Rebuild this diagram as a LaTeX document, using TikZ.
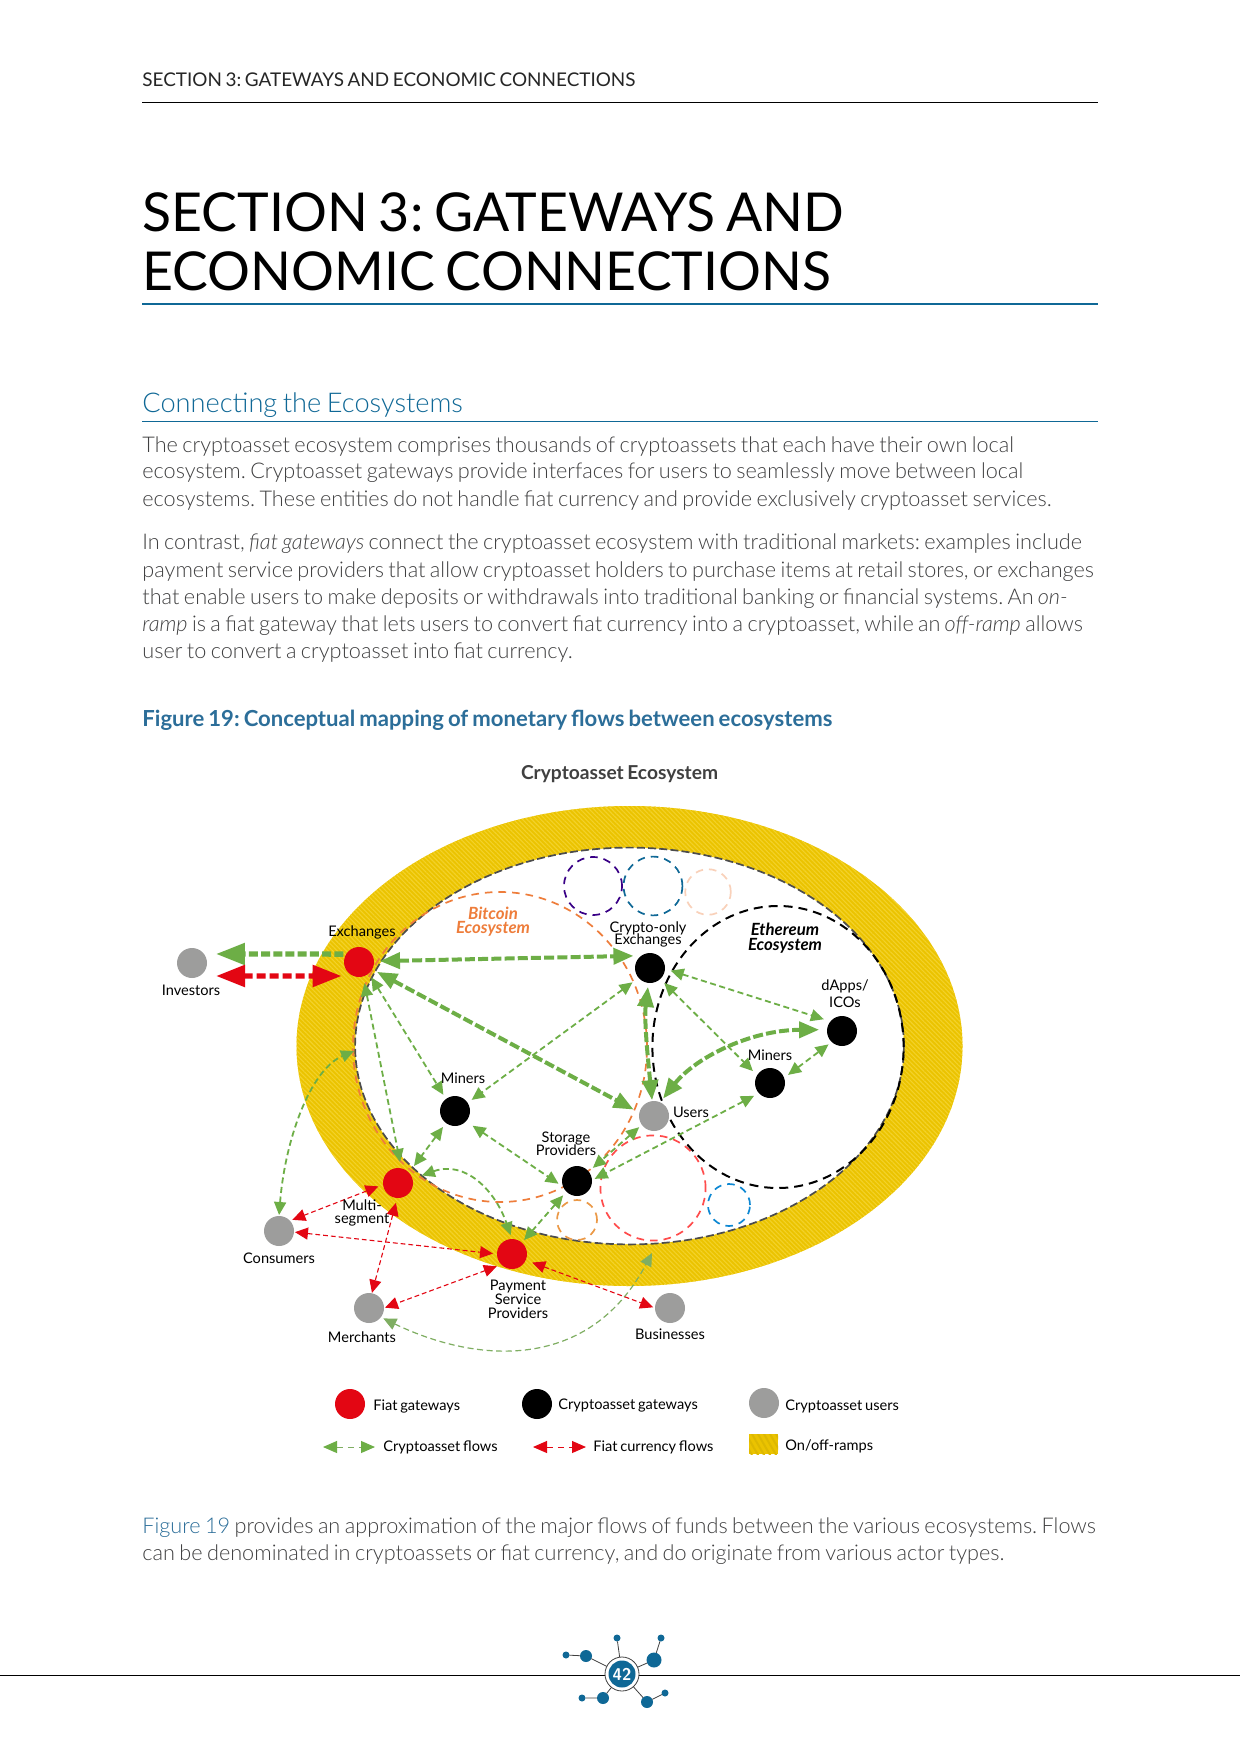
\documentclass[tikz,border=0pt]{standalone}
\usepackage{fontspec}
\setmainfont{Lato}[WordSpace=0.75]
\newfontfamily\latolight{Lato Light}[ItalicFont={Lato Light Italic},WordSpace=0.75]
\newfontfamily\latotitle{Lato}[WordSpace=0.8]
\usetikzlibrary{arrows.meta,patterns.meta}
\frenchspacing
\newcommand\tightls{\lineskiplimit -20pt\relax}
\definecolor{cgreen}{HTML}{6DAE46}
\definecolor{cgreenb}{HTML}{7FAE62}
\definecolor{cred}{HTML}{E30613}
\definecolor{cgrey}{HTML}{9D9D9C}
\definecolor{cyel}{HTML}{EBC300}
\definecolor{cyelb}{HTML}{F3D22A}
\definecolor{cyeld}{HTML}{DDB800}
\definecolor{corange}{HTML}{EE7D3B}
\definecolor{cblue}{HTML}{0F6896}
\definecolor{chead}{HTML}{2C6E99}
\definecolor{ctext}{HTML}{404041}
\tikzset{
 x=0.5pt,y=-0.5pt,
 gate/.style={circle,minimum size=15pt,inner sep=0,outer sep=0,draw=none},
 fiat/.style={gate,fill=cred},
 cryp/.style={gate,fill=black},
 user/.style={gate,fill=cgrey},
 lab/.style={font=\fontsize{7.3}{#1}\selectfont\tightls,align=center,inner sep=0,text=black},
 lab/.default=6.6,
 eco/.style={font=\fontsize{8.4}{#1}\selectfont\bfseries\itshape\tightls,align=center,inner sep=0},
 legt/.style={font=\fontsize{7.3}{9}\selectfont,anchor=west,inner sep=0,text=black},
 bodyline/.style={font=\fontsize{10.83}{13}\latolight\selectfont,anchor=base west,inner sep=0,text=ctext},
 titleline/.style={font=\fontsize{26.8}{30}\latotitle\selectfont,anchor=base west,inner sep=0},
 thin flow/.style={line width=0.9pt,dash pattern=on 3pt off 1.8pt,{Triangle[length=6.5pt,width=6pt]}-{Triangle[length=6.5pt,width=6pt]}},
 gflow/.style={thin flow,draw=cgreen},
 rflow/.style={thin flow,draw=cred,line width=0.55pt,dash pattern=on 2.4pt off 1.5pt},
 mflow/.style={line width=2pt,draw=cgreen,dash pattern=on 5pt off 1.6pt,{Triangle[length=10pt,width=8pt]}-{Triangle[length=10pt,width=8pt]}},
 ringdash/.style={dash pattern=on 4pt off 1.6pt,line width=0.85pt},
 satdash/.style={dash pattern=on 3.8pt off 3pt,line width=0.85pt,fill=none},
 hatch/.style={fill=cyel,postaction={pattern={Lines[angle=-45,distance=1.6pt,line width=0.55pt]},pattern color=cyelb}},
 hatchb/.style={fill=cyel,postaction={pattern={Lines[angle=-60,distance=2.6pt,line width=1pt]},pattern color=cyeld}},
 foot/.style={fill=cblue,circle,inner sep=0,outer sep=0},
 footline/.style={draw=black!75,line width=0.4pt},
}
\begin{document}
\begin{tikzpicture}
\useasboundingbox (0,0) rectangle (1240,1754);
\fill[white] (0,0) rectangle (1240,1754);

% page header
\node[font=\fontsize{9.45}{12}\selectfont,anchor=base west,inner sep=0,text=black!85] (hd) at (142,87) {SECTION 3: GATEWAYS AND ECONOMIC CONNECTIONS};
\draw[line width=0.4pt] (142,102) -- (1098,102);
\node[titleline] (t1) at (142,232) {SECTION 3: GATEWAYS AND};
\node[titleline] (t2) at (142,291) {ECONOMIC CONNECTIONS};
\draw[line width=1pt,draw=cblue] (142,304) -- (1098,304);
\node[font=\fontsize{13.6}{15}\latolight\selectfont,anchor=base west,inner sep=0,text=cblue] (sec) at (142,413) {Connecting the Ecosystems};
\draw[line width=0.45pt,draw=cblue] (142,421.5) -- (1098,421.5);

\node[bodyline] (b1) at (142,452) {The cryptoasset ecosystem comprises thousands of cryptoassets that each have their own local};
\node[bodyline] (b2) at (142,479) {ecosystem. Cryptoasset gateways provide interfaces for users to seamlessly move between local};
\node[bodyline] (b3) at (142,506) {ecosystems. These entities do not handle fiat currency and provide exclusively cryptoasset services.};
\node[bodyline] (b4) at (142,549.5) {In contrast, \textit{fiat gateways} connect the cryptoasset ecosystem with traditional markets: examples include};
\node[bodyline] (b5) at (142,577) {payment service providers that allow cryptoasset holders to purchase items at retail stores, or exchanges};
\node[bodyline] (b6) at (142,604) {that enable users to make deposits or withdrawals into traditional banking or financial systems. An \textit{on-}};
\node[bodyline] (b7) at (142,631) {\textit{ramp} is a fiat gateway that lets users to convert fiat currency into a cryptoasset, while an \textit{off-ramp} allows};
\node[bodyline] (b8) at (142,658) {user to convert a cryptoasset into fiat currency.};
\node[font=\fontsize{11.05}{13}\bfseries\selectfont,anchor=base west,inner sep=0,text=chead] (fig) at (142,726) {Figure 19: Conceptual mapping of monetary flows between ecosystems};
\node[font=\fontsize{9.6}{12}\bfseries\selectfont,inner sep=0,text=black!75] (ce) at (619.5,774.5) {Cryptoasset Ecosystem};

% ring
\coordinate (rc) at (629.5,1046);
\path[hatch,even odd rule] (rc) ellipse [x radius=166.5pt,y radius=120pt] (rc) ellipse [x radius=137.2pt,y radius=99.2pt];
\draw[ringdash,draw=black!70] (rc) ellipse [x radius=137.2pt,y radius=99.2pt];

% ecosystems
\draw[satdash,draw=corange] (500,1047) ellipse [x radius=73.5pt,y radius=77.5pt];
\draw[satdash,draw=black,line width=1pt,dash pattern=on 4.5pt off 3pt] (778,1047) ellipse [x radius=62.8pt,y radius=70.5pt];
\draw[satdash,draw=violet!60!blue!75!black] (593,886) circle [radius=14.5pt];
\draw[satdash,draw=cblue] (653,886) circle [radius=14.7pt];
\draw[satdash,draw=corange!35] (708,892) circle [radius=11.4pt];
\draw[satdash,draw=orange!60!brown!80] (577,1220) circle [radius=10pt];
\draw[satdash,draw=red!60!pink] (653,1188) circle [radius=26.3pt];
\draw[satdash,draw=cyan!70!blue] (729,1205) circle [radius=10.5pt];

% nodes
\node[fiat] (ex) at (359,962) {};
\node[user] (inv) at (192,963) {};
\node[fiat] (ms) at (398,1183) {};
\node[cryp] (mia) at (455,1111) {};
\node[cryp] (cex) at (650,968) {};
\node[user] (us) at (654,1116) {};
\node[cryp] (dap) at (842,1031) {};
\node[cryp] (mib) at (770,1083) {};
\node[cryp] (st) at (577,1181) {};
\node[fiat] (psp) at (512,1254) {};
\node[user] (con) at (279,1231) {};
\node[user] (mer) at (369,1308) {};
\node[user] (bus) at (670,1308) {};
\coordinate (qend) at (354,1051);
\coordinate (rend) at (652,1253);

% big flows
\draw[draw=cgreen,line width=2.7pt,dash pattern=on 4.5pt off 1.6pt,-{Triangle[length=14.5pt,width=10.5pt]},shorten <=1.5pt,shorten >=6pt] (ex.148) -- (inv.37);
\draw[draw=cred,line width=2.7pt,dash pattern=on 4.5pt off 2pt,{Triangle[length=14.5pt,width=10.5pt]}-{Triangle[length=14.5pt,width=10.5pt]},shorten <=8.25pt,shorten >=6pt] (inv.-60) -- (ex.-111);

% medium flows
\draw[mflow,shorten <=3pt,shorten >=4pt] (ex.3) -- (cex.125);
\draw[mflow,shorten <=2.8pt,shorten >=3.3pt] (ex.-29) -- (us.167);
\draw[mflow,shorten <=2pt,shorten >=0.5pt] (cex.-96) .. controls (644,1020) and (648,1060) .. (us.97);
\draw[mflow,shorten <=2.4pt,shorten >=4pt] (us.66) .. controls (695,1058) and (750,1030) .. (dap.175);

% thin green flows
\draw[gflow,shorten <=2.4pt,shorten >=2.5pt] (ex.-49) -- (mia.127);
\draw[gflow,shorten <=3.4pt,shorten >=3.3pt] (ex.-74) -- (ms.77);
\draw[gflow,shorten <=3.8pt,shorten >=2.5pt] (cex.-139) -- (mia.33);
\draw[gflow,shorten <=2.5pt,shorten >=4.2pt] (mia.-127) -- (ms.43);
\draw[gflow,shorten <=4pt,shorten >=2.8pt] (mia.-43) -- (st.-157);
\draw[gflow,shorten <=3pt,shorten >=3.5pt] (cex.-3) -- (dap.140);
\draw[gflow,shorten <=2.8pt,shorten >=3pt] (cex.-47) -- (mib.149);
\draw[gflow,shorten <=2.5pt,shorten >=2pt] (mib.20) -- (dap.-133);
\draw[gflow,shorten <=1.8pt,shorten >=2.8pt] (us.-144) -- (st.39);
\draw[gflow,shorten <=2.8pt,shorten >=1.5pt] (mib.-137) -- (st.3);
\draw[gflow,shorten <=2.5pt,shorten >=1.7pt] (st.-135) -- (psp.49);
\draw[gflow,shorten <=5pt,shorten >=2pt] (ms.16) .. controls (465,1160) and (495,1190) .. (psp.90);
\draw[gflow,shorten <=0.5pt] (con.90) .. controls (285,1140) and (310,1070) .. (qend);
\draw[gflow,draw=cgreenb,line width=0.6pt,shorten <=1.4pt] (mer.-38) .. controls (480,1365) and (590,1370) .. (rend);

% red flows
\draw[rflow,shorten <=2.5pt,shorten >=1.3pt] (ms.186) -- (con.43);
\draw[rflow,shorten <=2.5pt,shorten >=0.2pt] (ms.-93) -- (mer.79);
\draw[rflow,shorten <=0.5pt,shorten >=2pt] (con.-4) -- (psp.180);
\draw[rflow,shorten <=2.4pt,shorten >=0.5pt] (psp.-135) -- (mer.0);
\draw[rflow,shorten <=3.5pt,shorten >=1pt] (psp.-24) -- (bus.180);

% labels
\node[lab] (l1) at (362,932) {Exchanges};
\node[lab] (l2) at (191,990) {Investors};
\node[eco=7,text=corange] (l3) at (493,921.5) {Bitcoin\\Ecosystem};
\node[lab=6] (l4) at (648,934.5) {Crypto-only\\Exchanges};
\node[eco=7.4,text=black] (l5) at (785,938) {Ethereum\\Ecosystem};
\node[lab=8.3] (l6) at (845,993.5) {dApps/\\ICOs};
\node[lab] (l7) at (770,1055) {Miners};
\node[lab] (l8) at (691,1112) {Users};
\node[lab] (l9) at (463,1078) {Miners};
\node[lab=6.5] (l10) at (566,1143.5) {Storage\\Providers};
\node[lab=6.5] (l11) at (362,1212.5) {Multi-\\segment};
\node[lab] (l12) at (279,1258) {Consumers};
\node[lab=7] (l13) at (518,1299) {Payment\\Service\\Providers};
\node[lab] (l14) at (362,1337) {Merchants};
\node[lab] (l15) at (670,1334) {Businesses};

% legend
\node[fiat] (ka) at (350,1404) {};
\node[legt] (ta) at (373,1406) {Fiat gateways};
\node[cryp] (kb) at (537,1404) {};
\node[legt] (tb) at (558,1406) {Cryptoasset gateways};
\node[user] (kc) at (764,1403) {};
\node[legt] (tc) at (785,1406) {Cryptoasset users};
\coordinate (kd1) at (323,1447);
\coordinate (kd2) at (375,1447);
\coordinate (ke1) at (533,1447);
\coordinate (ke2) at (586,1447);
\draw[line width=0.5pt,draw=cgreenb,dash pattern=on 3pt off 2.5pt,{Triangle[length=7pt,width=6pt,color=cgreen]}-{Triangle[length=7pt,width=6pt,color=cgreen]}] (kd1) -- (kd2);
\draw[line width=0.5pt,draw=cred,dash pattern=on 3pt off 2.5pt,{Triangle[length=7pt,width=6pt]}-{Triangle[length=7pt,width=6pt]}] (ke1) -- (ke2);
\node[legt] (td) at (383,1447) {Cryptoasset flows};
\node[legt] (te) at (593,1447) {Fiat currency flows};
\path[hatchb] (749,1434) rectangle (778,1454);
\node[legt] (tf) at (785,1446) {On/off-ramps};

% closing text
\node[bodyline] (c1) at (142,1533) {\textcolor{chead}{Figure 19} provides an approximation of the major flows of funds between the various ecosystems. Flows};
\node[bodyline] (c2) at (142,1560) {can be denominated in cryptoassets or fiat currency, and do originate from various actor types.};

% footer
\draw[line width=0.4pt] (0,1675) -- (1240,1675);
\coordinate (fc) at (622,1674);
\node[foot,minimum size=6pt] (f1) at (586,1656) {};
\node[foot,minimum size=3.5pt] (f2) at (566,1655) {};
\node[foot,minimum size=3.5pt] (f3) at (617,1638) {};
\node[foot,minimum size=7.5pt] (f4) at (654,1660) {};
\node[foot,minimum size=3.5pt] (f5) at (661,1638) {};
\node[foot,minimum size=3.5pt] (f6) at (665,1693) {};
\node[foot,minimum size=6pt] (f7) at (647,1702) {};
\node[foot,minimum size=6pt] (f8) at (603,1698) {};
\node[foot,minimum size=3.5pt] (f9) at (582,1698) {};
\draw[footline] (f2) -- (f1) -- (fc) (f3) -- (fc) (f5) -- (f4) -- (fc) (f6) -- (f7) -- (fc) (f9) -- (f8) -- (fc);
\node[circle,draw=black!75,fill=white,line width=0.4pt,minimum size=17pt,inner sep=0] (fr) at (fc) {};
\node[circle,fill=cblue,minimum size=13.5pt,inner sep=0,text=white,font=\fontsize{8.5}{10}\bfseries\sffamily\selectfont] (fn) at (fc) {42};
\end{tikzpicture}
\end{document}
